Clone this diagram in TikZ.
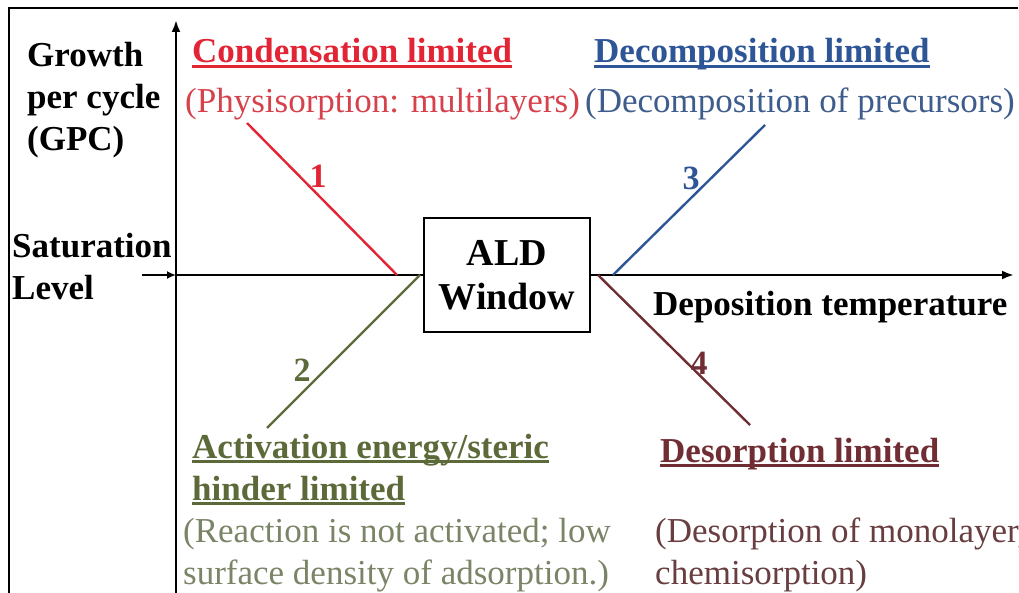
\documentclass[tikz,border=0pt]{standalone}
\usepackage{fontspec}
\setmainfont{Liberation Serif}
\usetikzlibrary{arrows.meta}
\definecolor{condred}{RGB}{226,36,52}
\definecolor{condredlt}{RGB}{214,66,76}
\definecolor{decblue}{RGB}{46,86,150}
\definecolor{decbluelt}{RGB}{62,92,140}
\definecolor{actgreen}{RGB}{92,106,58}
\definecolor{actgreenlt}{RGB}{122,132,102}
\definecolor{desbrown}{RGB}{112,46,52}
\definecolor{desbrownlt}{RGB}{104,62,64}
\newcommand\undl[1]{\setbox0\hbox{#1}\rlap{\rule[-5pt]{\wd0}{2.6pt}}\box0}
\tikzset{
  lbl/.style={inner sep=0pt,anchor=base west,align=left,
    font=\fontsize{35}{42}\selectfont},
  hd/.style={lbl,font=\fontsize{35}{42}\selectfont\bfseries},
  num/.style={inner sep=0pt,font=\fontsize{34}{40}\selectfont\bfseries},
  axis/.style={line width=2.6pt},
  limit/.style={line width=2.4pt},
}
\begin{document}
\begin{tikzpicture}[x=1pt,y=-1pt]
  \useasboundingbox (0,0) rectangle (1019,593);
  % frame
  \draw[line width=2pt] (9,593) -- (9,8) -- (1018,8);
  % axes
  \coordinate (o) at (176,275);
  \coordinate (ytop) at (176,20);
  \coordinate (ybot) at (176,593);
  \coordinate (xend) at (1014,275);
  \coordinate (sat) at (142,275);
  \draw[axis,-{Latex[length=12pt,width=9pt]}] (ybot) -- (ytop);
  \draw[axis,-{Latex[length=12pt,width=9pt]}] (o) -- (xend);
  \draw[axis,-{Latex[length=9pt,width=8pt]}] (sat) -- (o);
  \node[draw,line width=2.6pt,fill=white,minimum width=166pt,minimum height=114pt,
    inner sep=0pt,align=center,font=\fontsize{38}{44}\selectfont\bfseries]
    (win) at (507,275) {\raisebox{-5pt}{ALD}\\\raisebox{-5pt}{Window}};
  % the four limits
  \coordinate (c1) at (247,123); \coordinate (c2) at (397,275);
  \coordinate (a1) at (267,428); \coordinate (a2) at (420,275);
  \coordinate (d1) at (765,125); \coordinate (d2) at (613,275);
  \coordinate (s1) at (750,425); \coordinate (s2) at (598,275);
  \draw[limit,condred] (c1) -- (c2);
  \draw[limit,actgreen] (a1) -- (a2);
  \draw[limit,decblue] (d1) -- (d2);
  \draw[limit,desbrown] (s1) -- (s2);
  \node[num,condred] (n1) at (318,176) {1};
  \node[num,actgreen] (n2) at (302,370) {2};
  \node[num,decblue] (n3) at (691,178) {3};
  \node[num,desbrown] (n4) at (699,363) {4};
  % texts
  \node[hd] (gpc) at (27,151) {Growth\\per cycle\\(GPC)};
  \node[hd] (satlvl) at (12,300) {Saturation\\Level};
  \node[hd] (temp) at (653,316) {Deposition temperature};
  \node[hd,condred] (condhd) at (192,63) {\undl{Condensation limited}};
  \node[lbl,condredlt] (condtx) at (185,113) {(Physisorption: multilayers)};
  \node[hd,decblue] (dechd) at (594,63) {\undl{Decomposition limited}};
  \node[lbl,decbluelt] (dectx) at (585,113) {(Decomposition of precursors)};
  \node[hd,actgreen] (acthd) at (192,500) {\undl{Activation energy/steric}\\\undl{hinder limited}};
  \node[lbl,actgreenlt] (acttx) at (183,584) {(Reaction is not activated; low\\surface density of adsorption.)};
  \node[hd,desbrown] (deshd) at (660,462) {\undl{Desorption limited}};
  \node[lbl,desbrownlt] (destx) at (655,584) {(Desorption of monolayer,\\chemisorption)};
\end{tikzpicture}
\end{document}
